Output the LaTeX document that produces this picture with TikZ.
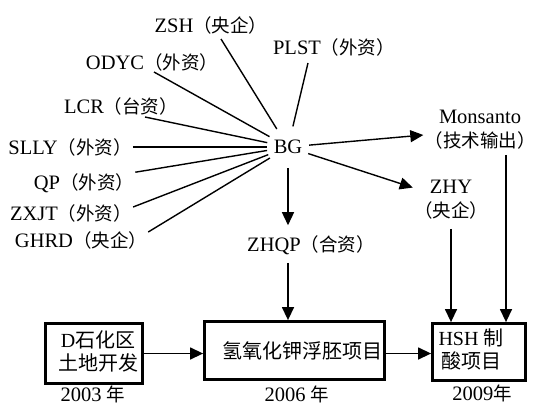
\documentclass[tikz,border=0pt]{standalone}
\usepackage{fontspec}
\setmainfont{Liberation Serif}
\newfontfamily\cjkf{Noto Sans CJK SC}
\usetikzlibrary{arrows.meta}
\newcommand\zhsize{}
\newcommand\zh[1]{{\cjkf\zhsize #1}}
\begin{document}
\begin{tikzpicture}[x=1pt,y=-1pt,
  lbl/.style={font={\fontsize{20.5}{24}\selectfont\def\zhsize{\fontsize{18.5}{24}\selectfont}}, inner sep=1pt},
  conn/.style={line width=1.4pt},
  arr/.style={conn,-{Triangle[length=13pt,width=12pt]}},
  box/.style={draw, line width=2.8pt, inner sep=0pt,
    font={\fontsize{20}{20}\selectfont\def\zhsize{\fontsize{20}{20}\selectfont}}}]
\useasboundingbox (0,0) rectangle (538,405);
% source labels
\node[lbl] (zsh)  at (211,25)  {ZSH\zh{（央企）}};
\node[lbl] (odyc) at (152,62)  {ODYC\zh{（外资）}};
\node[lbl] (plst) at (334,47)  {PLST\zh{（外资）}};
\node[lbl] (lcr)  at (121,106) {LCR\zh{（台资）}};
\node[lbl] (slly) at (70,147)  {SLLY\zh{（外资）}};
\node[lbl] (qp)   at (84,183)  {QP\zh{（外资）}};
\node[lbl] (zxjt) at (71,213)  {ZXJT\zh{（外资）}};
\node[lbl] (ghrd) at (81,240)  {GHRD\zh{（央企）}};
\node[lbl, circle, minimum size=42pt, inner sep=0pt] (bg) at (288,147) {BG};
\node[lbl, align=center] (ms)  at (480,130) {Monsanto\\\zh{（技术输出）}};
\node[lbl, align=center] (zhy) at (451,200) {ZHY\\\zh{（央企）}};
\node[lbl] (zhqp) at (311,245) {ZHQP\zh{（合资）}};
% boxes
\node[box, minimum width=97pt, minimum height=60pt] (b1) at (94,353.5)
  {\hspace*{8pt}\begin{tabular}{@{}c@{}}D\zh{石化区}\\\zh{土地开发}\end{tabular}};
\node[box, minimum width=180pt, minimum height=58pt] (b2) at (294.5,350.5)
  {\hspace*{15pt}\zh{氢氧化钾浮胚项目}};
\node[box, minimum width=93pt, minimum height=57pt] (b3) at (479,352)
  {\hspace*{-16pt}\begin{tabular}{@{}c@{}}HSH \zh{制}\\\zh{酸项目}\end{tabular}};
% years
\node[lbl, anchor=base] (y1) at (93,401) {2003 \zh{年}};
\node[lbl, anchor=base] (y2) at (297,401) {2006 \zh{年}};
\node[lbl, anchor=base] (y3) at (482,400) {2009\zh{年}};
% lines into BG
\draw[conn] ([shift={(10,14)}]zsh.center) -- (bg);
\draw[conn] ([shift={(2,10)}]odyc.center) -- (bg);
\draw[conn] ([shift={(-26,16)}]plst.center) -- (bg);
\draw[conn] ([shift={(24,11)}]lcr.center) -- (bg);
\draw[conn] (slly.east) -- (bg);
\draw[conn] (qp.north east) -- (bg);
\draw[conn] ([shift={(0,4)}]zxjt.north east) -- (bg);
\draw[conn] ([shift={(0,2)}]ghrd.north east) -- (bg);
% arrows out of BG
\draw[arr] (bg) -- (ms);
\draw[arr] (bg) -- (zhy);
\draw[arr, shorten >=9pt] (bg.south) -- (bg.south |- zhqp.north);
\draw[arr, shorten <=7pt] (bg.south |- zhqp.south) -- (bg.south |- b2.north);
% verticals into box 3
\draw[arr, shorten <=8pt] (zhy.south) -- (zhy.south |- b3.north);
\coordinate (mv) at ([xshift=26pt]ms.south);
\draw[arr, shorten <=4pt] (mv) -- (mv |- b3.north);
% horizontal flow
\draw[arr] (b1.east) -- (b1.east -| b2.west);
\draw[arr] (b2.east |- b1.east) -- (b3.west |- b1.east);
\end{tikzpicture}
\end{document}
